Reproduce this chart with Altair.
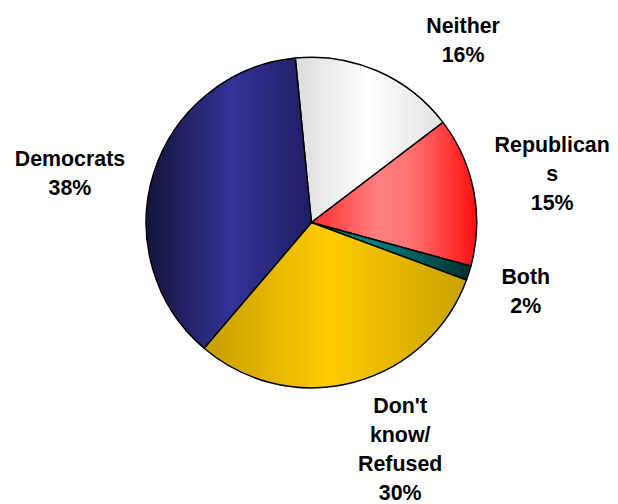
import math
import altair as alt
import pandas as pd

# ---- data ----
categories = ["Neither", "Republicans", "Both", "Don't know/Refused", "Democrats"]
values = [16.2, 14.6, 1.4, 30.6, 37.2]
pct_labels = ["16%", "15%", "2%", "30%", "38%"]
label_lines = [["Neither"], ["Republican", "s"], ["Both"], ["Don't", "know/", "Refused"], ["Democrats"]]

df = pd.DataFrame({"category": categories, "value": values})
df["end"] = df["value"].cumsum()
df["start"] = df["end"] - df["value"]
df["mid"] = (df["start"] + df["end"]) / 2
df["label"] = ["\n".join(l + [p]) for l, p in zip(label_lines, pct_labels)]

# ---- layout / style ----
start_rad = math.radians(-5.6)
theta_scale = alt.Scale(domain=[0, 100], range=[start_rad, start_rad + 2 * math.pi])
CX, CY, R = 312, 211.5, 170

fills = {
    "Neither": [(0, "#dcdcdc"), (0.5, "#ffffff"), (1, "#e0e0e0")],
    "Republicans": [(0, "#ff2e2e"), (0.4, "#ff8080"), (0.6, "#ff7272"), (1, "#ff0e0e")],
    "Both": [(0, "#007777"), (0.4, "#008080"), (1, "#002e2e")],
    "Don't know/Refused": [(0, "#c59e00"), (0.48, "#ffcc00"), (1, "#c9a100")],
    "Democrats": [(0, "#14143a"), (0.52, "#333399"), (1, "#1f1f63")],
}
# label radius and fine offsets (px); first line sits at the anchor
label_layout = {
    "Neither": (230, 64, 9),
    "Republicans": (241, 11, -34),
    "Both": (222, 9, -12),
    "Don't know/Refused": (235, 32, -39),
    "Democrats": (255, -5, 11),
}

layers = []
for cat in categories:
    grad = alt.Gradient(
        gradient="linear", x1=0, y1=0, x2=1, y2=0,
        stops=[alt.GradientStop(color=c, offset=o) for o, c in fills[cat]],
    )
    layers.append(
        alt.Chart(df)
        .transform_filter(alt.FieldEqualPredicate(field="category", equal=cat))
        .mark_arc(outerRadius=R, fill=grad, stroke="black", strokeWidth=1.5)
        .encode(
            theta=alt.Theta("start:Q", scale=theta_scale, stack=False),
            theta2="end:Q",
            x=alt.value(CX),
            y=alt.value(CY),
        )
    )

for cat in categories:
    r, dx, dy = label_layout[cat]
    layers.append(
        alt.Chart(df)
        .transform_filter(alt.FieldEqualPredicate(field="category", equal=cat))
        .mark_text(
            radius=r, dx=dx, dy=dy, font="Liberation Sans", fontSize=22,
            fontWeight="bold", lineBreak="\n", lineHeight=30,
            align="center", baseline="middle", color="black",
        )
        .encode(
            theta=alt.Theta("mid:Q", scale=theta_scale, stack=False),
            text="label:N",
            x=alt.value(CX),
            y=alt.value(CY),
        )
    )

chart = (
    alt.layer(*layers)
    .properties(width=602, height=494, padding=0, background="white")
    .configure_view(strokeWidth=0)
)

chart.save("out.html", embed_options={"renderer": "svg", "actions": False})
